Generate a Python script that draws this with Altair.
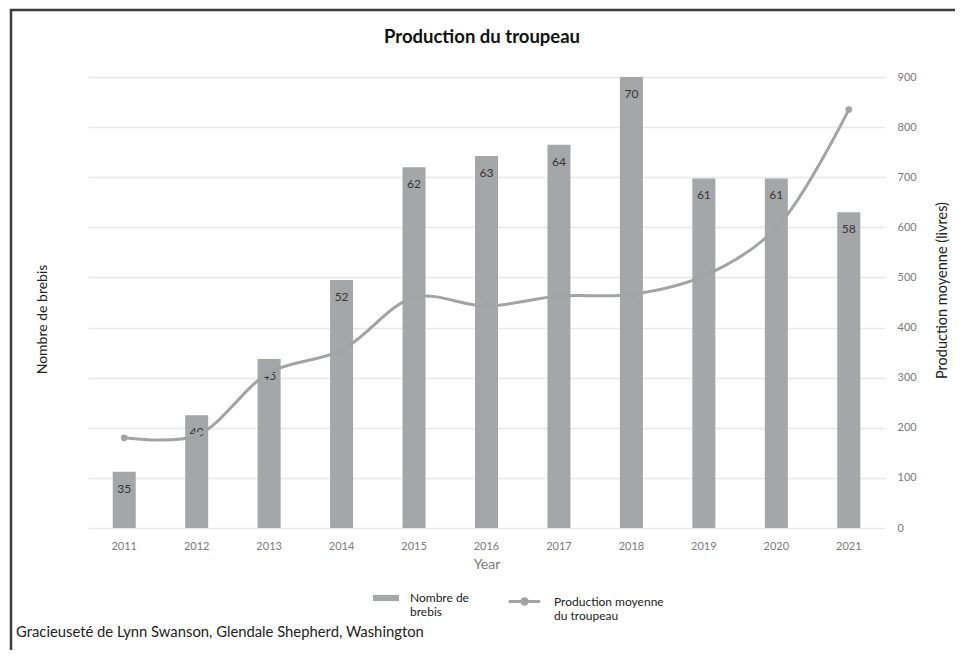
import altair as alt
import pandas as pd

years = [str(y) for y in range(2011, 2022)]
brebis = [35, 40, 45, 52, 62, 63, 64, 70, 61, 61, 58]
production = [180, 185, 310, 355, 460, 443, 463, 466, 503, 599, 835]
right_ticks = [0, 100, 200, 300, 400, 500, 600, 700, 800, 900]

title_text = "Production du troupeau"
bar_series = "Nombre de brebis"
line_series = "Production moyenne du troupeau"
footer_text = "Gracieuseté de Lynn Swanson, Glendale Shepherd, Washington"

FONT = "Lato"
GRAY = "#a5a6a8"

df = pd.DataFrame({
    "Year": years,
    "brebis": brebis,
    "production": production,
    "s_bar": bar_series,
    "s_line": line_series,
})
deco = pd.DataFrame({"t": [footer_text], "title": [title_text]})

x_enc = alt.X(
    "Year:N",
    scale=alt.Scale(paddingInner=0.683, paddingOuter=0.3415),
    axis=alt.Axis(
        title="Year", labelAngle=0, ticks=False, domain=False, grid=False,
        labelColor="#7a7a7a", labelFont=FONT, labelFontSize=11, labelPadding=12,
        titleColor="#7a7a7a", titleFont=FONT, titleFontSize=14, titleFontWeight="normal",
        titlePadding=6,
    ),
)

y_left = alt.Y(
    "brebis:Q",
    scale=alt.Scale(domain=[30, 70], zero=False, nice=False),
    axis=alt.Axis(
        title="Nombre de brebis", labels=False, ticks=False, domain=False, grid=False,
        titleFont=FONT, titleFontSize=14, titleFontWeight="normal", titleColor="#222222",
        titleAngle=270, titleX=-46, titleY=242, titleAlign="center", titleBaseline="middle",
    ),
)

y_right = alt.Y(
    "production:Q",
    scale=alt.Scale(domain=[0, 900], nice=False),
    axis=alt.Axis(
        orient="right", values=right_ticks, ticks=False, domain=False, grid=True,
        gridColor="#e8e8e8", gridWidth=1.5,
        labelColor="#7a7a7a", labelFont=FONT, labelFontSize=11, labelPadding=12,
        title="Production moyenne (livres)", titleFont=FONT, titleFontSize=14.5,
        titleFontWeight="normal", titleColor="#222222",
        titleAngle=270, titleX=57, titleY=213, titleAlign="center", titleBaseline="middle",
    ),
)

label_expr = ("datum.label == 'Nombre de brebis' ? ['Nombre de', 'brebis'] : "
              "['Production moyenne', 'du troupeau']")

bars = alt.Chart(df).mark_bar(size=23, color=GRAY).encode(
    x=x_enc,
    y=y_left,
    y2=alt.datum(30),
    fill=alt.Fill(
        "s_bar:N",
        scale=alt.Scale(range=[GRAY]),
        legend=alt.Legend(
            title=None, orient="none", legendX=284, legendY=507,
            symbolType="M-1,-0.24H1V0.24H-1Z", symbolSize=676,
            labelExpr=label_expr, labelFont=FONT, labelFontSize=12, labelColor="#222222",
            labelOffset=10,
        ),
    ),
)

bar_text = alt.Chart(df).mark_text(
    dy=17, font=FONT, fontSize=12, color="#333333", baseline="middle"
).encode(
    x=x_enc,
    y=y_left,
    text="brebis:Q",
)

left = alt.layer(bars, bar_text)

line = alt.Chart(df).mark_line(interpolate="catmull-rom", strokeWidth=3).encode(
    x=x_enc,
    y=y_right,
    stroke=alt.Stroke(
        "s_line:N",
        scale=alt.Scale(range=["#a2a3a5"]),
        legend=alt.Legend(
            title=None, orient="none", legendX=419, legendY=507,
            symbolType="M-1,0H1M0.17,0A0.17,0.17,0,1,1,-0.17,0A0.17,0.17,0,1,1,0.17,0",
            symbolSize=1000, symbolStrokeWidth=3,
            labelExpr=label_expr, labelFont=FONT, labelFontSize=12, labelColor="#222222",
            labelOffset=12,
        ),
    ),
)

pts = alt.Chart(df).mark_circle(size=45, color="#a2a3a5", opacity=1).encode(
    x=x_enc,
    y=y_right,
)

right = alt.layer(line, pts)

footer = alt.Chart(deco).mark_text(
    align="left", baseline="middle", font=FONT, fontSize=14.8, color="#222222"
).encode(
    x=alt.value(-72), y=alt.value(556), text="t:N"
)

title = alt.Chart(deco).mark_text(
    align="center", baseline="middle", font=FONT, fontSize=18.5, fontWeight="bold", color="#111111"
).encode(
    x=alt.value(394), y=alt.value(-40), text="title:N"
)

frame = alt.Chart(deco).mark_rect(
    fillOpacity=0, stroke="#3c3c3c", strokeWidth=2.5
).encode(
    x=alt.value(-77), x2=alt.value(871), y=alt.value(-67), y2=alt.value(700)
)

chart = alt.layer(left, right, footer, title, frame).resolve_scale(
    y="independent", fill="independent", stroke="independent"
).properties(
    width=797,
    height=451,
    padding={"left": 80, "top": 69, "right": 70, "bottom": 122},
    autosize=alt.AutoSizeParams(type="none"),
).configure(
    background="white"
).configure_view(
    stroke=None
)

chart.save("out.html", embed_options={"renderer": "svg", "actions": False})
